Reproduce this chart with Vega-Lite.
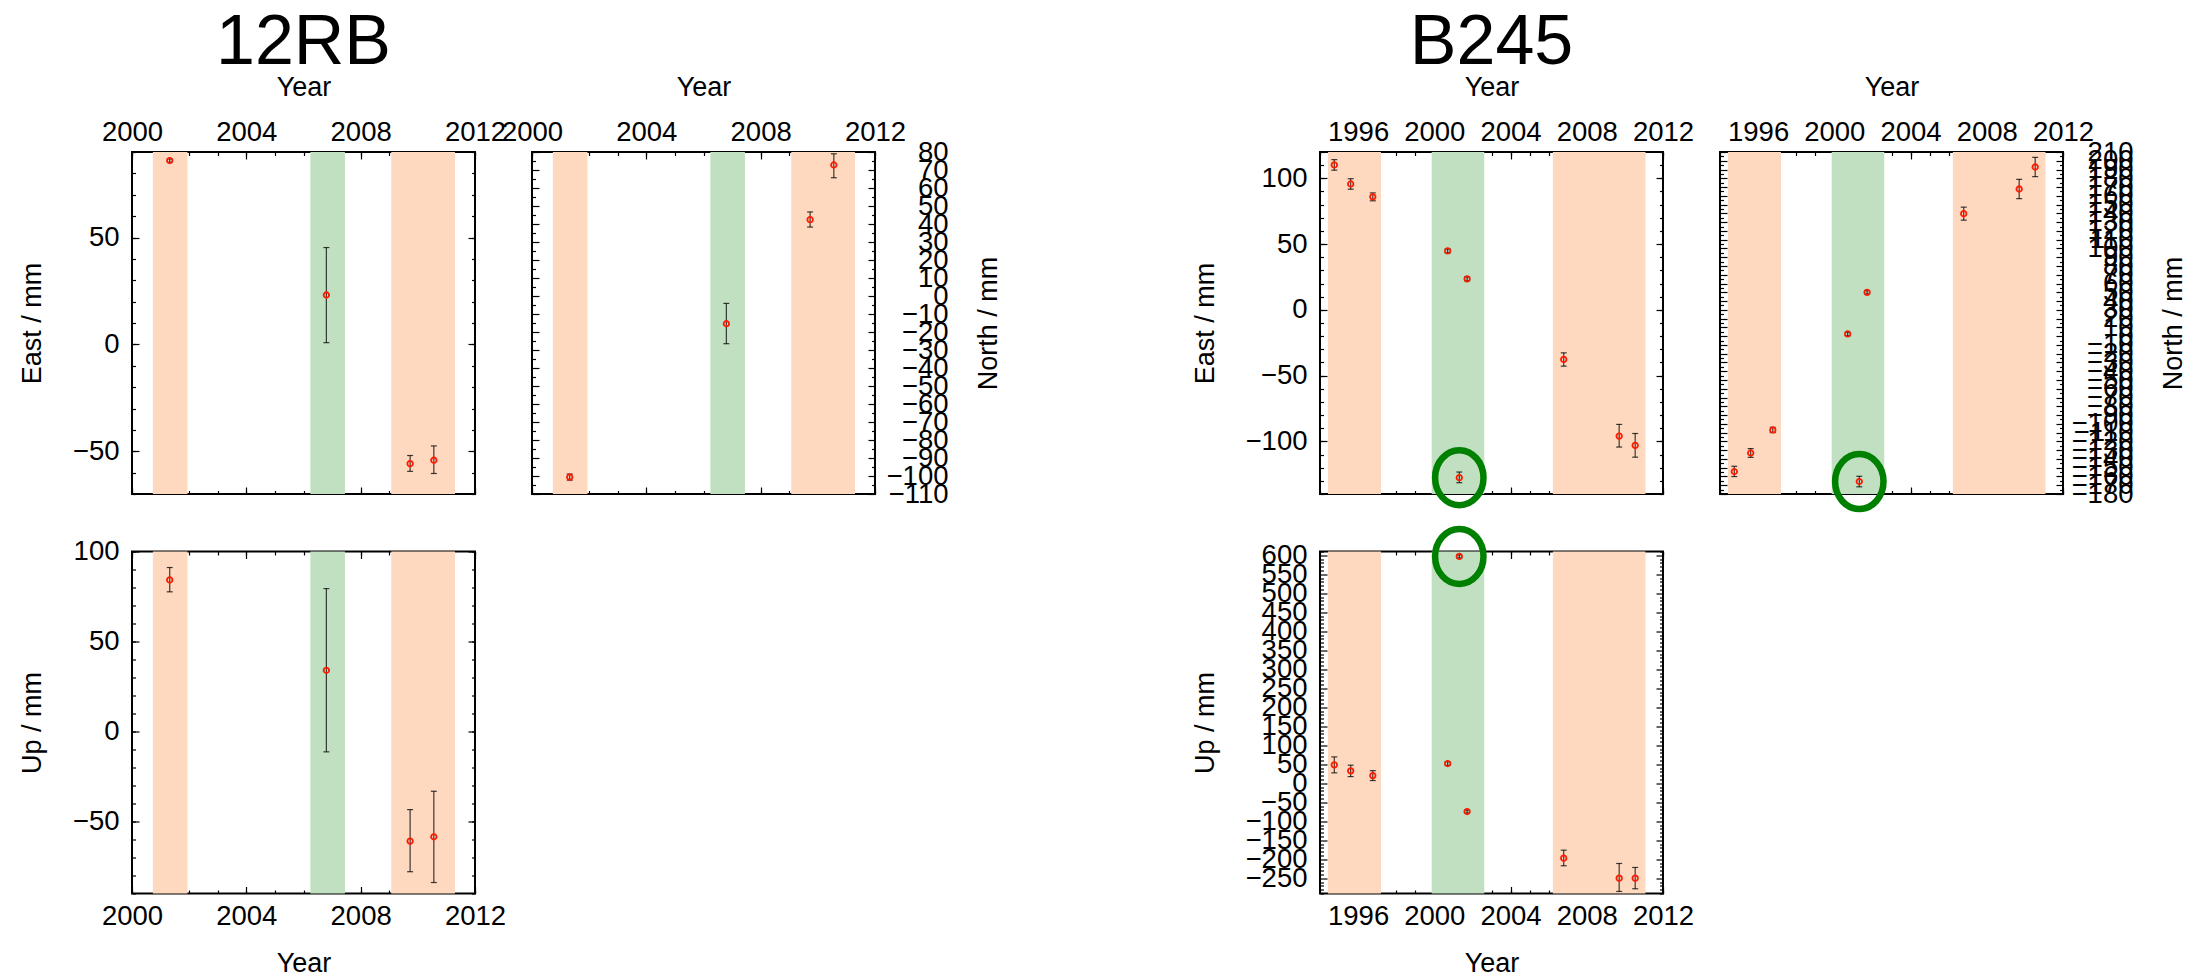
{
"$schema": "https://vega.github.io/schema/vega-lite/v6.json",
"padding": {"left": 17, "top": 7, "right": 0, "bottom": 0},
"background": "white",
"datasets": {
 "pts": [
  {"s":"12RB","c":"E","t":2001.32,"v":86,"lo":85.2,"hi":86.8,"f":0},
  {"s":"12RB","c":"E","t":2006.8,"v":23.1,"lo":0.8,"hi":45.3,"f":0},
  {"s":"12RB","c":"E","t":2009.73,"v":-55.8,"lo":-59.4,"hi":-52,"f":0},
  {"s":"12RB","c":"E","t":2010.56,"v":-54.2,"lo":-60.4,"hi":-47.5,"f":0},
  {"s":"12RB","c":"N","t":2001.32,"v":-100.6,"lo":-102.3,"hi":-98.9,"f":0},
  {"s":"12RB","c":"N","t":2006.8,"v":-15.4,"lo":-26.5,"hi":-4.1,"f":0},
  {"s":"12RB","c":"N","t":2009.73,"v":42.4,"lo":38.3,"hi":46.7,"f":0},
  {"s":"12RB","c":"N","t":2010.56,"v":72.8,"lo":65.7,"hi":79,"f":0},
  {"s":"12RB","c":"U","t":2001.32,"v":84.2,"lo":77.6,"hi":91.1,"f":0},
  {"s":"12RB","c":"U","t":2006.8,"v":34,"lo":-11.3,"hi":79.4,"f":0},
  {"s":"12RB","c":"U","t":2009.73,"v":-60.9,"lo":-77.9,"hi":-43.4,"f":0},
  {"s":"12RB","c":"U","t":2010.56,"v":-58.5,"lo":-83.9,"hi":-33.2,"f":0},
  {"s":"B245","c":"E","t":1994.75,"v":110.2,"lo":106.2,"hi":114.2,"f":0},
  {"s":"B245","c":"E","t":1995.61,"v":95.7,"lo":91.7,"hi":99.7,"f":0},
  {"s":"B245","c":"E","t":1996.77,"v":85.9,"lo":82.9,"hi":88.9,"f":0},
  {"s":"B245","c":"E","t":2000.7,"v":44.8,"lo":43.3,"hi":46.3,"f":0},
  {"s":"B245","c":"E","t":2001.31,"v":-127.6,"lo":-131.4,"hi":-123.3,"f":1},
  {"s":"B245","c":"E","t":2001.72,"v":23.6,"lo":22.1,"hi":25.1,"f":0},
  {"s":"B245","c":"E","t":2006.79,"v":-37.7,"lo":-42.8,"hi":-32.7,"f":0},
  {"s":"B245","c":"E","t":2009.7,"v":-96,"lo":-104.3,"hi":-87.1,"f":0},
  {"s":"B245","c":"E","t":2010.54,"v":-103,"lo":-112,"hi":-94,"f":0},
  {"s":"B245","c":"N","t":1994.75,"v":-154.4,"lo":-160.1,"hi":-148.4,"f":0},
  {"s":"B245","c":"N","t":1995.61,"v":-133.2,"lo":-138.2,"hi":-128.2,"f":0},
  {"s":"B245","c":"N","t":1996.77,"v":-107,"lo":-110,"hi":-104,"f":0},
  {"s":"B245","c":"N","t":2000.7,"v":2.5,"lo":0.5,"hi":4.5,"f":0},
  {"s":"B245","c":"N","t":2001.31,"v":-165.8,"lo":-171.8,"hi":-159.8,"f":1},
  {"s":"B245","c":"N","t":2001.72,"v":50,"lo":48,"hi":52,"f":0},
  {"s":"B245","c":"N","t":2006.79,"v":139.7,"lo":132.3,"hi":147.1,"f":0},
  {"s":"B245","c":"N","t":2009.7,"v":167.8,"lo":156.8,"hi":178.8,"f":0},
  {"s":"B245","c":"N","t":2010.54,"v":192.9,"lo":181.9,"hi":203.9,"f":0},
  {"s":"B245","c":"U","t":1994.75,"v":48.5,"lo":27.5,"hi":69.5,"f":0},
  {"s":"B245","c":"U","t":1995.61,"v":32.7,"lo":17.7,"hi":47.7,"f":0},
  {"s":"B245","c":"U","t":1996.77,"v":20.3,"lo":7.3,"hi":33.3,"f":0},
  {"s":"B245","c":"U","t":2000.7,"v":52,"lo":47,"hi":57,"f":0},
  {"s":"B245","c":"U","t":2001.31,"v":597,"lo":593,"hi":601,"f":1},
  {"s":"B245","c":"U","t":2001.72,"v":-74.3,"lo":-78.3,"hi":-70.3,"f":0},
  {"s":"B245","c":"U","t":2006.79,"v":-197,"lo":-217,"hi":-176,"f":0},
  {"s":"B245","c":"U","t":2009.7,"v":-249.6,"lo":-284.6,"hi":-211,"f":0},
  {"s":"B245","c":"U","t":2010.54,"v":-249.6,"lo":-277.5,"hi":-221.5,"f":0}
 ],
 "bands": [
  {"s":"12RB","k":"o","t0":2000.73,"t1":2001.94},
  {"s":"12RB","k":"g","t0":2006.24,"t1":2007.45},
  {"s":"12RB","k":"o","t0":2009.07,"t1":2011.3},
  {"s":"B245","k":"o","t0":1994.42,"t1":1997.2},
  {"s":"B245","k":"g","t0":1999.86,"t1":2002.62},
  {"s":"B245","k":"o","t0":2006.22,"t1":2011.08}
 ],
 "blank": [{"a": 0}]
},
"config": {
 "font": "Liberation Sans",
 "view": {"stroke": "black", "strokeWidth": 2},
 "axis": {"grid": false, "domain": false, "ticks": true, "tickColor": "black", "tickWidth": 1.2, "tickSize": -7,
  "labelFont": "Liberation Sans", "labelFontSize": 27.5, "labelColor": "black", "labelOverlap": false, "labelFlush": false, "labelBound": false,
  "titleFont": "Liberation Sans", "titleFontSize": 27, "titleFontWeight": "normal", "titleColor": "black"},
 "title": {"font": "Liberation Sans", "fontSize": 70, "fontWeight": "normal", "color": "black", "anchor": "middle", "frame": "group", "baseline": "alphabetic", "offset": -6}
},
"columns": 5,
"spacing": {"row": 57.5, "column": 57},
"bounds": "flush",
"align": "each",
"concat": [
 {
  "width": 343, "height": 342, "title": "12RB",
  "resolve": {"axis": {"x": "independent", "y": "independent"}},
  "layer": [
   {"data": {"name": "bands"}, "transform": [{"filter": "datum.s === '12RB'"}], "mark": "rect",
    "encoding": {
     "x": {"field": "t0", "type": "quantitative", "scale": {"domain": [2000, 2012], "nice": false, "zero": false}, "axis": {"orient": "top", "values": [2000,2004,2008,2012], "format": "d", "title": "Year", "labelPadding": 13, "titlePadding": 17}},
     "x2": {"field": "t1"},
     "color": {"field": "k", "type": "nominal", "scale": {"domain": ["o","g"], "range": ["#fed9bf","#c1e0c1"]}, "legend": null}}},
   {"data": {"name": "pts"}, "transform": [{"filter": "datum.s === '12RB' && datum.c === 'E'"}], "mark": {"type": "rule", "color": "black", "strokeWidth": 1.2, "opacity": 0.75},
    "encoding": {
     "x": {"field": "t", "type": "quantitative", "scale": {"domain": [2000, 2012], "nice": false, "zero": false}, "axis": {"orient": "top", "values": [2000,2001,2002,2003,2004,2005,2006,2007,2008,2009,2010,2011,2012], "labels": false, "title": null, "tickSize": -3.5}},
     "y": {"field": "lo", "type": "quantitative", "scale": {"domain": [-70, 90], "nice": false, "zero": false}, "axis": {"orient": "left", "values": [-50,0,50], "format": "d", "title": "East / mm", "labelPadding": 20, "titlePadding": 26}},
     "y2": {"field": "hi"}}},
   {"data": {"name": "pts"}, "transform": [{"filter": "datum.s === '12RB' && datum.c === 'E'"}], "mark": {"type": "tick", "orient": "horizontal", "size": 6, "thickness": 1.2, "color": "black", "opacity": 0.75},
    "encoding": {
     "x": {"field": "t", "type": "quantitative", "scale": {"domain": [2000, 2012], "nice": false, "zero": false}, "axis": {"orient": "bottom", "values": [2000,2004,2008,2012], "labels": false, "title": null}},
     "y": {"field": "lo", "type": "quantitative", "scale": {"domain": [-70, 90], "nice": false, "zero": false}, "axis": {"orient": "left", "values": [-70,-60,-50,-40,-30,-20,-10,0,10,20,30,40,50,60,70,80,90], "labels": false, "title": null, "tickSize": -3.5}}}},
   {"data": {"name": "pts"}, "transform": [{"filter": "datum.s === '12RB' && datum.c === 'E'"}], "mark": {"type": "tick", "orient": "horizontal", "size": 6, "thickness": 1.2, "color": "black", "opacity": 0.75},
    "encoding": {
     "x": {"field": "t", "type": "quantitative", "scale": {"domain": [2000, 2012], "nice": false, "zero": false}, "axis": {"orient": "bottom", "values": [2000,2001,2002,2003,2004,2005,2006,2007,2008,2009,2010,2011,2012], "labels": false, "title": null, "tickSize": -3.5}},
     "y": {"field": "hi", "type": "quantitative", "scale": {"domain": [-70, 90], "nice": false, "zero": false}, "axis": {"orient": "right", "values": [-50,0,50], "labels": false, "title": null}}}},
   {"data": {"name": "pts"}, "transform": [{"filter": "datum.s === '12RB' && datum.c === 'E'"}], "mark": {"type": "point", "shape": "circle", "filled": false, "stroke": "#ff1a00", "strokeWidth": 1.8, "size": 30, "opacity": 1},
    "encoding": {
     "x": {"field": "t", "type": "quantitative", "scale": {"domain": [2000, 2012], "nice": false, "zero": false}, "axis": null},
     "y": {"field": "v", "type": "quantitative", "scale": {"domain": [-70, 90], "nice": false, "zero": false}, "axis": {"orient": "right", "values": [-70,-60,-50,-40,-30,-20,-10,0,10,20,30,40,50,60,70,80,90], "labels": false, "title": null, "tickSize": -3.5}}}}
  ]
 },
 {
  "width": 343, "height": 342,
  "resolve": {"axis": {"x": "independent", "y": "independent"}},
  "layer": [
   {"data": {"name": "bands"}, "transform": [{"filter": "datum.s === '12RB'"}], "mark": "rect",
    "encoding": {
     "x": {"field": "t0", "type": "quantitative", "scale": {"domain": [2000, 2012], "nice": false, "zero": false}, "axis": {"orient": "top", "values": [2000,2004,2008,2012], "format": "d", "title": "Year", "labelPadding": 13, "titlePadding": 17}},
     "x2": {"field": "t1"},
     "color": {"field": "k", "type": "nominal", "scale": {"domain": ["o","g"], "range": ["#fed9bf","#c1e0c1"]}, "legend": null}}},
   {"data": {"name": "pts"}, "transform": [{"filter": "datum.s === '12RB' && datum.c === 'N'"}], "mark": {"type": "rule", "color": "black", "strokeWidth": 1.2, "opacity": 0.75},
    "encoding": {
     "x": {"field": "t", "type": "quantitative", "scale": {"domain": [2000, 2012], "nice": false, "zero": false}, "axis": {"orient": "top", "values": [2000,2001,2002,2003,2004,2005,2006,2007,2008,2009,2010,2011,2012], "labels": false, "title": null, "tickSize": -3.5}},
     "y": {"field": "lo", "type": "quantitative", "scale": {"domain": [-110, 80], "nice": false, "zero": false}, "axis": {"orient": "left", "values": [-110,-100,-90,-80,-70,-60,-50,-40,-30,-20,-10,0,10,20,30,40,50,60,70,80], "labels": false, "title": null}},
     "y2": {"field": "hi"}}},
   {"data": {"name": "pts"}, "transform": [{"filter": "datum.s === '12RB' && datum.c === 'N'"}], "mark": {"type": "tick", "orient": "horizontal", "size": 6, "thickness": 1.2, "color": "black", "opacity": 0.75},
    "encoding": {
     "x": {"field": "t", "type": "quantitative", "scale": {"domain": [2000, 2012], "nice": false, "zero": false}, "axis": {"orient": "bottom", "values": [2000,2004,2008,2012], "labels": false, "title": null}},
     "y": {"field": "lo", "type": "quantitative", "scale": {"domain": [-110, 80], "nice": false, "zero": false}, "axis": {"orient": "left", "values": [-105,-95,-85,-75,-65,-55,-45,-35,-25,-15,-5,5,15,25,35,45,55,65,75], "labels": false, "title": null, "tickSize": -3.5}}}},
   {"data": {"name": "pts"}, "transform": [{"filter": "datum.s === '12RB' && datum.c === 'N'"}], "mark": {"type": "tick", "orient": "horizontal", "size": 6, "thickness": 1.2, "color": "black", "opacity": 0.75},
    "encoding": {
     "x": {"field": "t", "type": "quantitative", "scale": {"domain": [2000, 2012], "nice": false, "zero": false}, "axis": {"orient": "bottom", "values": [2000,2001,2002,2003,2004,2005,2006,2007,2008,2009,2010,2011,2012], "labels": false, "title": null, "tickSize": -3.5}},
     "y": {"field": "hi", "type": "quantitative", "scale": {"domain": [-110, 80], "nice": false, "zero": false}, "axis": {"orient": "right", "values": [-110,-100,-90,-80,-70,-60,-50,-40,-30,-20,-10,0,10,20,30,40,50,60,70,80], "format": "d", "labelAlign": "right", "labelPadding": 80, "title": "North / mm", "titleAngle": 270, "titleBaseline": "top", "titlePadding": 27}}}},
   {"data": {"name": "pts"}, "transform": [{"filter": "datum.s === '12RB' && datum.c === 'N'"}], "mark": {"type": "point", "shape": "circle", "filled": false, "stroke": "#ff1a00", "strokeWidth": 1.8, "size": 30, "opacity": 1},
    "encoding": {
     "x": {"field": "t", "type": "quantitative", "scale": {"domain": [2000, 2012], "nice": false, "zero": false}, "axis": null},
     "y": {"field": "v", "type": "quantitative", "scale": {"domain": [-110, 80], "nice": false, "zero": false}, "axis": {"orient": "right", "values": [-105,-95,-85,-75,-65,-55,-45,-35,-25,-15,-5,5,15,25,35,45,55,65,75], "labels": false, "title": null, "tickSize": -3.5}}}}
  ]
 },
 {"width": 331, "height": 342, "data": {"name": "blank"}, "mark": {"type": "point", "opacity": 0}, "encoding": {}, "view": {"stroke": null}},
 {
  "width": 343, "height": 342, "title": "B245",
  "resolve": {"axis": {"x": "independent", "y": "independent"}},
  "layer": [
   {"data": {"name": "bands"}, "transform": [{"filter": "datum.s === 'B245'"}], "mark": "rect",
    "encoding": {
     "x": {"field": "t0", "type": "quantitative", "scale": {"domain": [1994, 2012], "nice": false, "zero": false}, "axis": {"orient": "top", "values": [1996,2000,2004,2008,2012], "format": "d", "title": "Year", "labelPadding": 13, "titlePadding": 17}},
     "x2": {"field": "t1"},
     "color": {"field": "k", "type": "nominal", "scale": {"domain": ["o","g"], "range": ["#fed9bf","#c1e0c1"]}, "legend": null}}},
   {"data": {"name": "pts"}, "transform": [{"filter": "datum.s === 'B245' && datum.c === 'E'"}], "mark": {"type": "rule", "color": "black", "strokeWidth": 1.2, "opacity": 0.75},
    "encoding": {
     "x": {"field": "t", "type": "quantitative", "scale": {"domain": [1994, 2012], "nice": false, "zero": false}, "axis": {"orient": "top", "values": [1994,1995,1996,1997,1998,1999,2000,2001,2002,2003,2004,2005,2006,2007,2008,2009,2010,2011,2012], "labels": false, "title": null, "tickSize": -3.5}},
     "y": {"field": "lo", "type": "quantitative", "scale": {"domain": [-140, 120], "nice": false, "zero": false}, "axis": {"orient": "left", "values": [-100,-50,0,50,100], "format": "d", "title": "East / mm", "labelPadding": 20, "titlePadding": 26}},
     "y2": {"field": "hi"}}},
   {"data": {"name": "pts"}, "transform": [{"filter": "datum.s === 'B245' && datum.c === 'E'"}], "mark": {"type": "tick", "orient": "horizontal", "size": 6, "thickness": 1.2, "color": "black", "opacity": 0.75},
    "encoding": {
     "x": {"field": "t", "type": "quantitative", "scale": {"domain": [1994, 2012], "nice": false, "zero": false}, "axis": {"orient": "bottom", "values": [1996,2000,2004,2008,2012], "labels": false, "title": null}},
     "y": {"field": "lo", "type": "quantitative", "scale": {"domain": [-140, 120], "nice": false, "zero": false}, "axis": {"orient": "left", "values": [-140,-130,-120,-110,-100,-90,-80,-70,-60,-50,-40,-30,-20,-10,0,10,20,30,40,50,60,70,80,90,100,110,120], "labels": false, "title": null, "tickSize": -3.5}}}},
   {"data": {"name": "pts"}, "transform": [{"filter": "datum.s === 'B245' && datum.c === 'E'"}], "mark": {"type": "tick", "orient": "horizontal", "size": 6, "thickness": 1.2, "color": "black", "opacity": 0.75},
    "encoding": {
     "x": {"field": "t", "type": "quantitative", "scale": {"domain": [1994, 2012], "nice": false, "zero": false}, "axis": {"orient": "bottom", "values": [1994,1995,1996,1997,1998,1999,2000,2001,2002,2003,2004,2005,2006,2007,2008,2009,2010,2011,2012], "labels": false, "title": null, "tickSize": -3.5}},
     "y": {"field": "hi", "type": "quantitative", "scale": {"domain": [-140, 120], "nice": false, "zero": false}, "axis": {"orient": "right", "values": [-100,-50,0,50,100], "labels": false, "title": null}}}},
   {"data": {"name": "pts"}, "transform": [{"filter": "datum.s === 'B245' && datum.c === 'E'"}], "mark": {"type": "point", "shape": "circle", "filled": false, "stroke": "#ff1a00", "strokeWidth": 1.8, "size": 30, "opacity": 1},
    "encoding": {
     "x": {"field": "t", "type": "quantitative", "scale": {"domain": [1994, 2012], "nice": false, "zero": false}, "axis": null},
     "y": {"field": "v", "type": "quantitative", "scale": {"domain": [-140, 120], "nice": false, "zero": false}, "axis": {"orient": "right", "values": [-140,-130,-120,-110,-100,-90,-80,-70,-60,-50,-40,-30,-20,-10,0,10,20,30,40,50,60,70,80,90,100,110,120], "labels": false, "title": null, "tickSize": -3.5}}}},
   {"data": {"name": "pts"}, "transform": [{"filter": "datum.s === 'B245' && datum.c === 'E' && datum.f === 1"}], "mark": {"type": "point", "shape": "M -0.88,0 A 0.88,1 0 1,1 0.88,0 A 0.88,1 0 1,1 -0.88,0 Z", "filled": false, "stroke": "#008000", "strokeWidth": 6.5, "size": 3025, "opacity": 1},
    "encoding": {
     "x": {"field": "t", "type": "quantitative", "scale": {"domain": [1994, 2012], "nice": false, "zero": false}, "axis": null},
     "y": {"field": "v", "type": "quantitative", "scale": {"domain": [-140, 120], "nice": false, "zero": false}, "axis": null}}}
  ]
 },
 {
  "width": 343, "height": 342,
  "resolve": {"axis": {"x": "independent", "y": "independent"}},
  "layer": [
   {"data": {"name": "bands"}, "transform": [{"filter": "datum.s === 'B245'"}], "mark": "rect",
    "encoding": {
     "x": {"field": "t0", "type": "quantitative", "scale": {"domain": [1994, 2012], "nice": false, "zero": false}, "axis": {"orient": "top", "values": [1996,2000,2004,2008,2012], "format": "d", "title": "Year", "labelPadding": 13, "titlePadding": 17}},
     "x2": {"field": "t1"},
     "color": {"field": "k", "type": "nominal", "scale": {"domain": ["o","g"], "range": ["#fed9bf","#c1e0c1"]}, "legend": null}}},
   {"data": {"name": "pts"}, "transform": [{"filter": "datum.s === 'B245' && datum.c === 'N'"}], "mark": {"type": "rule", "color": "black", "strokeWidth": 1.2, "opacity": 0.75},
    "encoding": {
     "x": {"field": "t", "type": "quantitative", "scale": {"domain": [1994, 2012], "nice": false, "zero": false}, "axis": {"orient": "top", "values": [1994,1995,1996,1997,1998,1999,2000,2001,2002,2003,2004,2005,2006,2007,2008,2009,2010,2011,2012], "labels": false, "title": null, "tickSize": -3.5}},
     "y": {"field": "lo", "type": "quantitative", "scale": {"domain": [-180, 210], "nice": false, "zero": false}, "axis": {"orient": "left", "values": [-180,-170,-160,-150,-140,-130,-120,-110,-100,-90,-80,-70,-60,-50,-40,-30,-20,-10,0,10,20,30,40,50,60,70,80,90,100,110,120,130,140,150,160,170,180,190,200,210], "labels": false, "title": null}},
     "y2": {"field": "hi"}}},
   {"data": {"name": "pts"}, "transform": [{"filter": "datum.s === 'B245' && datum.c === 'N'"}], "mark": {"type": "tick", "orient": "horizontal", "size": 6, "thickness": 1.2, "color": "black", "opacity": 0.75},
    "encoding": {
     "x": {"field": "t", "type": "quantitative", "scale": {"domain": [1994, 2012], "nice": false, "zero": false}, "axis": {"orient": "bottom", "values": [1996,2000,2004,2008,2012], "labels": false, "title": null}},
     "y": {"field": "lo", "type": "quantitative", "scale": {"domain": [-180, 210], "nice": false, "zero": false}, "axis": {"orient": "left", "values": [-175,-165,-155,-145,-135,-125,-115,-105,-95,-85,-75,-65,-55,-45,-35,-25,-15,-5,5,15,25,35,45,55,65,75,85,95,105,115,125,135,145,155,165,175,185,195,205], "labels": false, "title": null, "tickSize": -3.5}}}},
   {"data": {"name": "pts"}, "transform": [{"filter": "datum.s === 'B245' && datum.c === 'N'"}], "mark": {"type": "tick", "orient": "horizontal", "size": 6, "thickness": 1.2, "color": "black", "opacity": 0.75},
    "encoding": {
     "x": {"field": "t", "type": "quantitative", "scale": {"domain": [1994, 2012], "nice": false, "zero": false}, "axis": {"orient": "bottom", "values": [1994,1995,1996,1997,1998,1999,2000,2001,2002,2003,2004,2005,2006,2007,2008,2009,2010,2011,2012], "labels": false, "title": null, "tickSize": -3.5}},
     "y": {"field": "hi", "type": "quantitative", "scale": {"domain": [-180, 210], "nice": false, "zero": false}, "axis": {"orient": "right", "values": [-180,-170,-160,-150,-140,-130,-120,-110,-100,-90,-80,-70,-60,-50,-40,-30,-20,-10,0,10,20,30,40,50,60,70,80,90,100,110,120,130,140,150,160,170,180,190,200,210], "format": "d", "labelAlign": "right", "labelPadding": 77, "title": "North / mm", "titleAngle": 270, "titleBaseline": "top", "titlePadding": 27}}}},
   {"data": {"name": "pts"}, "transform": [{"filter": "datum.s === 'B245' && datum.c === 'N'"}], "mark": {"type": "point", "shape": "circle", "filled": false, "stroke": "#ff1a00", "strokeWidth": 1.8, "size": 30, "opacity": 1},
    "encoding": {
     "x": {"field": "t", "type": "quantitative", "scale": {"domain": [1994, 2012], "nice": false, "zero": false}, "axis": null},
     "y": {"field": "v", "type": "quantitative", "scale": {"domain": [-180, 210], "nice": false, "zero": false}, "axis": {"orient": "right", "values": [-175,-165,-155,-145,-135,-125,-115,-105,-95,-85,-75,-65,-55,-45,-35,-25,-15,-5,5,15,25,35,45,55,65,75,85,95,105,115,125,135,145,155,165,175,185,195,205], "labels": false, "title": null, "tickSize": -3.5}}}},
   {"data": {"name": "pts"}, "transform": [{"filter": "datum.s === 'B245' && datum.c === 'N' && datum.f === 1"}], "mark": {"type": "point", "shape": "M -0.88,0 A 0.88,1 0 1,1 0.88,0 A 0.88,1 0 1,1 -0.88,0 Z", "filled": false, "stroke": "#008000", "strokeWidth": 6.5, "size": 3025, "opacity": 1},
    "encoding": {
     "x": {"field": "t", "type": "quantitative", "scale": {"domain": [1994, 2012], "nice": false, "zero": false}, "axis": null},
     "y": {"field": "v", "type": "quantitative", "scale": {"domain": [-180, 210], "nice": false, "zero": false}, "axis": null}}}
  ]
 },
 {
  "width": 343, "height": 342,
  "resolve": {"axis": {"x": "independent", "y": "independent"}},
  "layer": [
   {"data": {"name": "bands"}, "transform": [{"filter": "datum.s === '12RB'"}], "mark": "rect",
    "encoding": {
     "x": {"field": "t0", "type": "quantitative", "scale": {"domain": [2000, 2012], "nice": false, "zero": false}, "axis": {"orient": "bottom", "values": [2000,2004,2008,2012], "format": "d", "title": "Year", "labelPadding": 16, "titlePadding": 20}},
     "x2": {"field": "t1"},
     "color": {"field": "k", "type": "nominal", "scale": {"domain": ["o","g"], "range": ["#fed9bf","#c1e0c1"]}, "legend": null}}},
   {"data": {"name": "pts"}, "transform": [{"filter": "datum.s === '12RB' && datum.c === 'U'"}], "mark": {"type": "rule", "color": "black", "strokeWidth": 1.2, "opacity": 0.75},
    "encoding": {
     "x": {"field": "t", "type": "quantitative", "scale": {"domain": [2000, 2012], "nice": false, "zero": false}, "axis": {"orient": "bottom", "values": [2000,2001,2002,2003,2004,2005,2006,2007,2008,2009,2010,2011,2012], "labels": false, "title": null, "tickSize": -3.5}},
     "y": {"field": "lo", "type": "quantitative", "scale": {"domain": [-90, 100], "nice": false, "zero": false}, "axis": {"orient": "left", "values": [-50,0,50,100], "format": "d", "title": "Up / mm", "labelPadding": 20, "titlePadding": 26}},
     "y2": {"field": "hi"}}},
   {"data": {"name": "pts"}, "transform": [{"filter": "datum.s === '12RB' && datum.c === 'U'"}], "mark": {"type": "tick", "orient": "horizontal", "size": 6, "thickness": 1.2, "color": "black", "opacity": 0.75},
    "encoding": {
     "x": {"field": "t", "type": "quantitative", "scale": {"domain": [2000, 2012], "nice": false, "zero": false}, "axis": {"orient": "top", "values": [2000,2004,2008,2012], "labels": false, "title": null}},
     "y": {"field": "lo", "type": "quantitative", "scale": {"domain": [-90, 100], "nice": false, "zero": false}, "axis": {"orient": "left", "values": [-90,-80,-70,-60,-50,-40,-30,-20,-10,0,10,20,30,40,50,60,70,80,90,100], "labels": false, "title": null, "tickSize": -3.5}}}},
   {"data": {"name": "pts"}, "transform": [{"filter": "datum.s === '12RB' && datum.c === 'U'"}], "mark": {"type": "tick", "orient": "horizontal", "size": 6, "thickness": 1.2, "color": "black", "opacity": 0.75},
    "encoding": {
     "x": {"field": "t", "type": "quantitative", "scale": {"domain": [2000, 2012], "nice": false, "zero": false}, "axis": {"orient": "top", "values": [2000,2001,2002,2003,2004,2005,2006,2007,2008,2009,2010,2011,2012], "labels": false, "title": null, "tickSize": -3.5}},
     "y": {"field": "hi", "type": "quantitative", "scale": {"domain": [-90, 100], "nice": false, "zero": false}, "axis": {"orient": "right", "values": [-50,0,50,100], "labels": false, "title": null}}}},
   {"data": {"name": "pts"}, "transform": [{"filter": "datum.s === '12RB' && datum.c === 'U'"}], "mark": {"type": "point", "shape": "circle", "filled": false, "stroke": "#ff1a00", "strokeWidth": 1.8, "size": 30, "opacity": 1},
    "encoding": {
     "x": {"field": "t", "type": "quantitative", "scale": {"domain": [2000, 2012], "nice": false, "zero": false}, "axis": null},
     "y": {"field": "v", "type": "quantitative", "scale": {"domain": [-90, 100], "nice": false, "zero": false}, "axis": {"orient": "right", "values": [-90,-80,-70,-60,-50,-40,-30,-20,-10,0,10,20,30,40,50,60,70,80,90,100], "labels": false, "title": null, "tickSize": -3.5}}}}
  ]
 },
 {"width": 343, "height": 342, "data": {"name": "blank"}, "mark": {"type": "point", "opacity": 0}, "encoding": {}, "view": {"stroke": null}},
 {"width": 331, "height": 342, "data": {"name": "blank"}, "mark": {"type": "point", "opacity": 0}, "encoding": {}, "view": {"stroke": null}},
 {
  "width": 343, "height": 342,
  "resolve": {"axis": {"x": "independent", "y": "independent"}},
  "layer": [
   {"data": {"name": "bands"}, "transform": [{"filter": "datum.s === 'B245'"}], "mark": "rect",
    "encoding": {
     "x": {"field": "t0", "type": "quantitative", "scale": {"domain": [1994, 2012], "nice": false, "zero": false}, "axis": {"orient": "bottom", "values": [1996,2000,2004,2008,2012], "format": "d", "title": "Year", "labelPadding": 16, "titlePadding": 20}},
     "x2": {"field": "t1"},
     "color": {"field": "k", "type": "nominal", "scale": {"domain": ["o","g"], "range": ["#fed9bf","#c1e0c1"]}, "legend": null}}},
   {"data": {"name": "pts"}, "transform": [{"filter": "datum.s === 'B245' && datum.c === 'U'"}], "mark": {"type": "rule", "color": "black", "strokeWidth": 1.2, "opacity": 0.75},
    "encoding": {
     "x": {"field": "t", "type": "quantitative", "scale": {"domain": [1994, 2012], "nice": false, "zero": false}, "axis": {"orient": "bottom", "values": [1994,1995,1996,1997,1998,1999,2000,2001,2002,2003,2004,2005,2006,2007,2008,2009,2010,2011,2012], "labels": false, "title": null, "tickSize": -3.5}},
     "y": {"field": "lo", "type": "quantitative", "scale": {"domain": [-290, 610], "nice": false, "zero": false}, "axis": {"orient": "left", "values": [-250,-200,-150,-100,-50,0,50,100,150,200,250,300,350,400,450,500,550,600], "format": "d", "title": "Up / mm", "labelPadding": 20, "titlePadding": 26}},
     "y2": {"field": "hi"}}},
   {"data": {"name": "pts"}, "transform": [{"filter": "datum.s === 'B245' && datum.c === 'U'"}], "mark": {"type": "tick", "orient": "horizontal", "size": 6, "thickness": 1.2, "color": "black", "opacity": 0.75},
    "encoding": {
     "x": {"field": "t", "type": "quantitative", "scale": {"domain": [1994, 2012], "nice": false, "zero": false}, "axis": {"orient": "top", "values": [1996,2000,2004,2008,2012], "labels": false, "title": null}},
     "y": {"field": "lo", "type": "quantitative", "scale": {"domain": [-290, 610], "nice": false, "zero": false}, "axis": {"orient": "left", "values": [-290,-280,-270,-260,-240,-230,-220,-210,-190,-180,-170,-160,-140,-130,-120,-110,-90,-80,-70,-60,-40,-30,-20,-10,10,20,30,40,60,70,80,90,110,120,130,140,160,170,180,190,210,220,230,240,260,270,280,290,310,320,330,340,360,370,380,390,410,420,430,440,460,470,480,490,510,520,530,540,560,570,580,590,610], "labels": false, "title": null, "tickSize": -3.5}}}},
   {"data": {"name": "pts"}, "transform": [{"filter": "datum.s === 'B245' && datum.c === 'U'"}], "mark": {"type": "tick", "orient": "horizontal", "size": 6, "thickness": 1.2, "color": "black", "opacity": 0.75},
    "encoding": {
     "x": {"field": "t", "type": "quantitative", "scale": {"domain": [1994, 2012], "nice": false, "zero": false}, "axis": {"orient": "top", "values": [1994,1995,1996,1997,1998,1999,2000,2001,2002,2003,2004,2005,2006,2007,2008,2009,2010,2011,2012], "labels": false, "title": null, "tickSize": -3.5}},
     "y": {"field": "hi", "type": "quantitative", "scale": {"domain": [-290, 610], "nice": false, "zero": false}, "axis": {"orient": "right", "values": [-250,-200,-150,-100,-50,0,50,100,150,200,250,300,350,400,450,500,550,600], "labels": false, "title": null}}}},
   {"data": {"name": "pts"}, "transform": [{"filter": "datum.s === 'B245' && datum.c === 'U'"}], "mark": {"type": "point", "shape": "circle", "filled": false, "stroke": "#ff1a00", "strokeWidth": 1.8, "size": 30, "opacity": 1},
    "encoding": {
     "x": {"field": "t", "type": "quantitative", "scale": {"domain": [1994, 2012], "nice": false, "zero": false}, "axis": null},
     "y": {"field": "v", "type": "quantitative", "scale": {"domain": [-290, 610], "nice": false, "zero": false}, "axis": {"orient": "right", "values": [-290,-280,-270,-260,-240,-230,-220,-210,-190,-180,-170,-160,-140,-130,-120,-110,-90,-80,-70,-60,-40,-30,-20,-10,10,20,30,40,60,70,80,90,110,120,130,140,160,170,180,190,210,220,230,240,260,270,280,290,310,320,330,340,360,370,380,390,410,420,430,440,460,470,480,490,510,520,530,540,560,570,580,590,610], "labels": false, "title": null, "tickSize": -3.5}}}},
   {"data": {"name": "pts"}, "transform": [{"filter": "datum.s === 'B245' && datum.c === 'U' && datum.f === 1"}], "mark": {"type": "point", "shape": "M -0.88,0 A 0.88,1 0 1,1 0.88,0 A 0.88,1 0 1,1 -0.88,0 Z", "filled": false, "stroke": "#008000", "strokeWidth": 6.5, "size": 3025, "opacity": 1},
    "encoding": {
     "x": {"field": "t", "type": "quantitative", "scale": {"domain": [1994, 2012], "nice": false, "zero": false}, "axis": null},
     "y": {"field": "v", "type": "quantitative", "scale": {"domain": [-290, 610], "nice": false, "zero": false}, "axis": null}}}
  ]
 },
 {"width": 343, "height": 342, "data": {"name": "blank"}, "mark": {"type": "point", "opacity": 0}, "encoding": {}, "view": {"stroke": null}}
]
}
